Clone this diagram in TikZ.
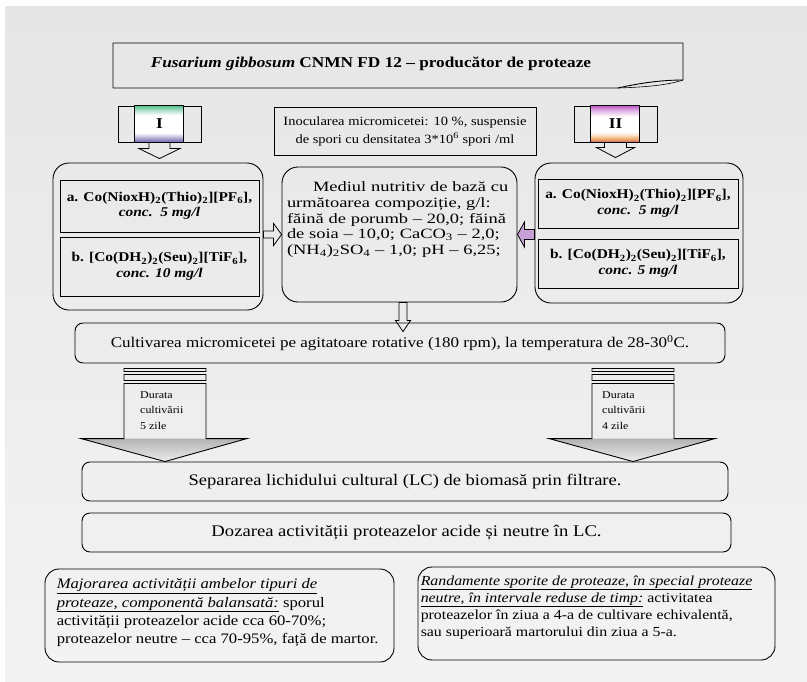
\documentclass[tikz,border=0pt]{standalone}
\usepackage{fontspec}
\setmainfont{Liberation Serif}[FakeStretch=1.15]
\newfontfamily\widefont{Liberation Serif}[FakeStretch=1.3]
\usetikzlibrary{calc}
\definecolor{papertop}{RGB}{230,230,230}
\definecolor{paperbot}{RGB}{243,243,243}
\definecolor{paper}{RGB}{236,236,236}
\definecolor{stripgreen}{RGB}{80,190,140}
\definecolor{stripviolet}{RGB}{105,95,170}
\definecolor{stripmagenta}{RGB}{190,90,200}
\definecolor{striporange}{RGB}{235,160,90}
\definecolor{striprose}{RGB}{200,80,150}
\definecolor{lavender}{RGB}{200,160,215}

\pgfdeclareverticalshading{stripI}{100bp}{color(0bp)=(stripviolet); color(25bp)=(stripviolet); color(32bp)=(stripviolet!45); color(38bp)=(white); color(62bp)=(white); color(69bp)=(stripgreen!50); color(75bp)=(stripgreen); color(100bp)=(stripgreen)}
\pgfdeclareverticalshading{stripII}{100bp}{color(0bp)=(striprose); color(25bp)=(striprose); color(29bp)=(striporange); color(35bp)=(striporange!30); color(40bp)=(white); color(60bp)=(white); color(68bp)=(stripmagenta!45); color(75bp)=(stripmagenta); color(100bp)=(stripmagenta)}

\tikzset{
  box/.style={draw, line width=0.9pt, inner sep=0pt},
  rbox/.style={box, rounded corners=8pt},
  bigrbox/.style={box, rounded corners=16pt},
  blockarrow/.style={draw, line width=0.8pt},
  txt/.style={inner sep=0pt}
}
\newcommand{\chemfont}{\fontsize{13.4}{15.5}\selectfont\bfseries}

% block arrow downwards: style, from, tip, shaft half, head half, head length
\newcommand{\vblock}[6]{%
  \draw[#1] let \p1=(#2), \p2=(#3) in
    ({\x2-#4},{\y1}) -- ({\x2-#4},{\y2+#6}) -- ({\x2-#5},{\y2+#6}) -- (\p2)
    -- ({\x2+#5},{\y2+#6}) -- ({\x2+#4},{\y2+#6}) -- ({\x2+#4},{\y1}) -- cycle;}
% block arrow sideways (negative head length points left)
\newcommand{\hblock}[6]{%
  \draw[#1] let \p1=(#2), \p2=(#3) in
    ({\x1},{\y2+#4}) -- ({\x2-(#6)},{\y2+#4}) -- ({\x2-(#6)},{\y2+#5}) -- (\p2)
    -- ({\x2-(#6)},{\y2-(#5)}) -- ({\x2-(#6)},{\y2-(#4)}) -- ({\x1},{\y2-(#4)}) -- cycle;}
% wide arrow with two bars, from cult down to sep
\newcommand{\durblock}[1]{%
  \shade[top color=gray!60, bottom color=paper] let \p1=(#1 |- cult.south), \p2=(#1 |- sep.north) in
    ({\x1-84pt},{\y2+23pt}) -- (\p2) -- ({\x1+82pt},{\y2+23pt}) -- cycle;
  \draw[box] let \p1=(#1 |- cult.south), \p2=(#1 |- sep.north) in
    ({\x1-41pt},{\y1-5pt}) rectangle ({\x1+41pt},{\y1-8pt})
    ({\x1-41pt},{\y1-11pt}) rectangle ({\x1+41pt},{\y1-17pt})
    ({\x1-41pt},{\y1-20pt}) -- ({\x1-41pt},{\y2+23pt}) -- ({\x1-84pt},{\y2+23pt}) -- (\p2)
    -- ({\x1+82pt},{\y2+23pt}) -- ({\x1+41pt},{\y2+23pt}) -- ({\x1+41pt},{\y1-20pt}) -- cycle;}

\begin{document}
\begin{tikzpicture}[x=1pt,y=-1pt]
\useasboundingbox (0,0) rectangle (807,681);
\fill[white] (0,0) rectangle (807,681);
\shade[top color=papertop, bottom color=paperbot] (5,6) rectangle (807,681);

% banner
\draw[box, line join=round] (113,43) -- (683,43) -- (683,80) .. controls (662,80) and (640,83) .. (618,88) -- (113,88) -- cycle;
\draw[line width=0.6pt] (618,88) .. controls (648,87) and (668,85) .. (683,80);
\node[txt, font=\fontsize{15}{18}\selectfont\bfseries] (title) at (371,64) {\textit{Fusarium gibbosum} CNMN FD 12 – producător de proteaze};

% variants I and II
\node[box, minimum width=83pt, minimum height=36pt] (varI) at (159.5,124) {};
\shade[shading=stripI] ($(varI.north)+(-25,0)$) rectangle ($(varI.south)+(24,0)$);
\draw[box] ($(varI.north)+(-25,0)$) rectangle ($(varI.south)+(24,0)$);
\node[txt, font=\fontsize{15}{18}\selectfont\bfseries] (labI) at (varI) {I};
\node[box, minimum width=83pt, minimum height=36pt] (varII) at (615.5,124) {};
\shade[shading=stripII] ($(varII.north)+(-25.5,0)$) rectangle ($(varII.south)+(23.5,0)$);
\draw[box] ($(varII.north)+(-25.5,0)$) rectangle ($(varII.south)+(23.5,0)$);
\node[txt, font=\fontsize{15}{18}\selectfont\bfseries] (labII) at (varII) {II};

\node[box, minimum width=262pt, minimum height=48pt, align=center, font=\fontsize{12.6}{18}\selectfont] (inoc) at (405,131) {Inocularea micromicetei: 10 \%, suspensie\\de spori cu densitatea 3*10\textsuperscript{6} spori /ml};

% left group
\node[bigrbox, minimum width=210pt, minimum height=147pt] (grpI) at (158,236.5) {};
\node[box, minimum width=199pt, minimum height=52pt, align=center, font=\chemfont] (aI) at (159.5,206) {a. Co(NioxH)\textsubscript{2}(Thio)\textsubscript{2}][PF\textsubscript{6}],\\\textit{conc.\ \ 5 mg/l}};
\node[box, minimum width=199pt, minimum height=59pt, align=center, font=\chemfont] (bI) at (159.5,266.5) {b. [Co(DH\textsubscript{2})\textsubscript{2}(Seu)\textsubscript{2}][TiF\textsubscript{6}],\\\textit{conc. 10 mg/l}};

% medium
\node[bigrbox, minimum width=235pt, minimum height=135pt] (mid) at (399.5,234.5) {};
\node[txt, anchor=north, text width=225pt, align=left, font=\widefont\fontsize{14.2}{15.7}\selectfont] (midtxt) at ($(mid.north)+(0,15)$) {\hspace*{26pt}Mediul nutritiv de bază cu\\următoarea compoziție, g/l:\\făină de porumb – 20,0; făină\\de soia – 10,0; CaCO\textsubscript{3} – 2,0;\\(NH\textsubscript{4})\textsubscript{2}SO\textsubscript{4} – 1,0; pH – 6,25;};

% right group
\node[bigrbox, minimum width=208pt, minimum height=140pt] (grpII) at (639,233) {};
\node[box, minimum width=200pt, minimum height=49pt, align=center, font=\chemfont] (aII) at (638,203.5) {a. Co(NioxH)\textsubscript{2}(Thio)\textsubscript{2}][PF\textsubscript{6}],\\\textit{conc.\ \ 5 mg/l}};
\node[box, minimum width=200pt, minimum height=49pt, align=center, font=\chemfont] (bII) at (638,263.5) {b. [Co(DH\textsubscript{2})\textsubscript{2}(Seu)\textsubscript{2}][TiF\textsubscript{6}],\\\textit{conc. 5 mg/l}};

\node[rbox, minimum width=650pt, minimum height=40pt, font=\fontsize{14.8}{18}\selectfont] (cult) at (400,343) {Cultivarea micromicetei pe agitatoare rotative (180 rpm), la temperatura de 28-30\textsuperscript{0}C.};
\node[rbox, minimum width=646pt, minimum height=39pt, font=\fontsize{16.1}{18}\selectfont] (sep) at (405,481.5) {Separarea lichidului cultural (LC) de biomasă prin filtrare.};
\node[rbox, minimum width=649pt, minimum height=39pt, font=\fontsize{16.2}{18}\selectfont] (doz) at (406.5,532.5) {Dozarea activității proteazelor acide și neutre în LC.};

% results
\node[box, rounded corners=14pt, minimum width=349pt, minimum height=93pt] (resI) at (219.5,615.5) {};
\node[txt, anchor=north west, align=left, font=\fontsize{14.5}{18.3}\selectfont] (resItxt) at ($(resI.north west)+(12,10)$) {\underline{\textit{Majorarea activității ambelor tipuri de}}\\\underline{\textit{proteaze, componentă balansată:}} sporul\\activității proteazelor acide cca 60-70\%;\\proteazelor neutre – cca 70-95\%, față de martor.};
\node[box, rounded corners=14pt, minimum width=357pt, minimum height=93pt] (resII) at (596.5,613.5) {};
\node[txt, anchor=north west, align=left, font=\fontsize{13.8}{17}\selectfont] (resIItxt) at ($(resII.north west)+(3,9)$) {\underline{\textit{Randamente sporite de proteaze, în special proteaze}}\\\underline{\textit{neutre, în intervale reduse de timp:}} activitatea\\proteazelor în ziua a 4-a de cultivare echivalentă,\\sau superioară martorului din ziua a 5-a.};

%%%%%%%%%%%%%%%%%%%%%%%%%%%%%%%%%%%

\vblock{blockarrow}{varI.south}{$(varI.south |- grpI.north)+(0,-4)$}{10.5pt}{20.5pt}{10pt}
\vblock{blockarrow}{varII.south}{$(varII.south |- grpII.north)+(0,-5)$}{11pt}{19pt}{10pt}
\hblock{blockarrow}{grpI.east}{mid.west}{3.5pt}{11pt}{8pt}
\hblock{blockarrow, fill=lavender}{grpII.west}{mid.east}{5pt}{12.5pt}{-7pt}
\vblock{blockarrow}{$(mid.south)+(3.5,0)$}{$(mid.south |- cult.north)+(3.5,9)$}{4pt}{7.5pt}{11pt}

\coordinate (durI) at (165,0);
\coordinate (durII) at (633,0);
\durblock{durI}
\durblock{durII}
\node[txt, anchor=north west, align=left, font=\fontsize{10.4}{15.5}\selectfont] (durItxt) at ($(durI |- cult.south)+(-25,28)$) {Durata\\cultivării\\5 zile};
\node[txt, anchor=north west, align=left, font=\fontsize{10.4}{15.5}\selectfont] (durIItxt) at ($(durII |- cult.south)+(-31,28)$) {Durata\\cultivării\\4 zile};
\end{tikzpicture}
\end{document}
